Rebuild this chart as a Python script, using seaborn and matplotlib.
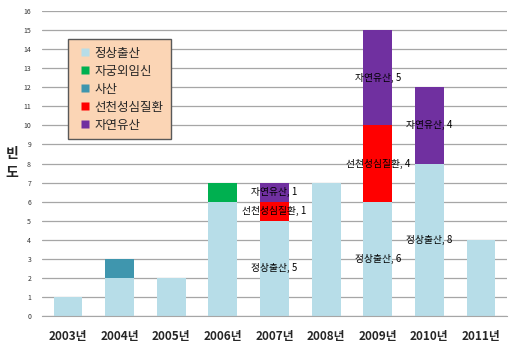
import numpy as np
import pandas as pd
import seaborn as sns
import matplotlib.pyplot as plt
from matplotlib.lines import Line2D

# 데이터
years = ["2003년", "2004년", "2005년", "2006년", "2007년", "2008년", "2009년", "2010년", "2011년"]
series = ["정상출산", "자궁외임신", "사산", "선천성심질환", "자연유산"]
normal = [1, 2, 2, 6, 5, 7, 6, 8, 4]
ectopic = [0, 0, 0, 1, 0, 0, 0, 0, 0]
stillbirth = [0, 1, 0, 0, 0, 0, 0, 0, 0]
heart = [0, 0, 0, 0, 1, 0, 4, 0, 0]
miscarriage = [0, 0, 0, 0, 1, 0, 5, 4, 0]
labeled_years = ["2007년", "2009년", "2010년"]

colors = ["#B7DDE8", "#00B050", "#3F96AE", "#FF0000", "#7030A0"]

sns.set_style("white")
plt.rcParams['font.family'] = ['Noto Sans CJK KR', 'DejaVu Sans']

values = np.array([normal, ectopic, stillbirth, heart, miscarriage])
cum = values.cumsum(axis=0)
df = pd.DataFrame({"year": years})
for i, s in enumerate(series):
    df[s] = cum[i]

fig = plt.figure(figsize=(5.15, 3.57), dpi=100)
ax = fig.add_axes([0.082, 0.115, 0.902, 0.854])

# 누적 막대: 위 단계부터 그리기
for i in range(len(series) - 1, -1, -1):
    sns.barplot(data=df, x="year", y=series[i], color=colors[i], width=0.56,
                saturation=1, linewidth=0, edgecolor="none", ax=ax, zorder=2)

# 데이터 레이블
for j, y in enumerate(years):
    if y not in labeled_years:
        continue
    for i, s in enumerate(series):
        v = values[i, j]
        if v > 0:
            mid = cum[i, j] - v / 2
            ax.text(j, mid, f"{s}, {v}", ha="center", va="center",
                    fontsize=7, color="black", zorder=5)

ax.set_ylim(0, 16)
ax.set_yticks(range(0, 17))
ax.set_xlim(-0.5, len(years) - 0.5)
ax.yaxis.grid(True, color="#A6A6A6", linewidth=0.9, zorder=0)
ax.set_axisbelow(True)
for sp in ["top", "right", "left"]:
    ax.spines[sp].set_visible(False)
ax.spines["bottom"].set_color("#A6A6A6")
ax.tick_params(axis="y", labelsize=5, colors="#333333", length=0, pad=8)
ax.tick_params(axis="x", labelsize=8.5, length=0, pad=10)
for t in ax.get_xticklabels():
    t.set_fontweight("bold")
ax.set_xlabel("")
ax.set_ylabel("빈\n도", rotation=0, fontsize=10, fontweight="bold", labelpad=8,
              va="center", linespacing=1.5)

handles = [Line2D([], [], linestyle="none", marker="s", markersize=5.5,
                  markerfacecolor=c, markeredgecolor="none") for c in colors]
leg = ax.legend(handles, series, loc="upper left", bbox_to_anchor=(0.056, 0.908),
                fontsize=9, frameon=True, fancybox=False, handlelength=1.5,
                handletextpad=0.0, labelspacing=0.4, borderpad=0.6,
                borderaxespad=0)
leg.get_frame().set_facecolor("#FBD5B5")
leg.get_frame().set_edgecolor("#595959")
leg.get_frame().set_alpha(1)

fig.savefig("out.png", dpi=100)
